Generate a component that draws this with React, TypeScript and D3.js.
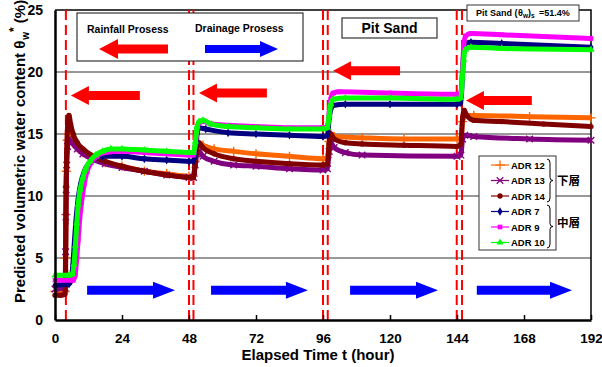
import { useEffect, useRef } from 'react';
import * as d3 from 'd3';

type Pt = [number, number];

const xTicks = [0, 24, 48, 72, 96, 120, 144, 168, 192];
const yTicks = [0, 5, 10, 15, 20, 25];
const gridValues = [5, 10, 15, 20];
// switch times between rainfall / drainage (hour)
const stageLines = [3.9, 48, 49.6, 96, 97.7, 143.9, 145.8];

// lower layer
const adr12: Pt[] = [
	[0, 2.3], [3.6, 2.3], [3.8, 5], [3.9, 8.5], [4.1, 12], [4.4, 14.5], [4.8, 15.0], [5.5, 14.8], [6.5, 14.3],
	[8, 13.9], [10, 13.5], [13, 13.1], [18, 12.7], [24, 12.4], [32, 12.0], [40, 11.8], [48, 11.6], [49.6, 11.6],
	[50.2, 12.8], [50.8, 14.0], [51.5, 14.3], [53, 14.1], [57, 13.8], [64, 13.6], [72, 13.4], [84, 13.2], [96, 13.0],
	[97.6, 13.1], [98.2, 14.4], [98.8, 15.0], [100, 14.8], [110, 14.7], [125, 14.6], [144, 14.6], [145.4, 14.7],
	[146, 16.0], [146.8, 16.5], [150, 16.5], [170, 16.4], [192, 16.3]
];
const adr13: Pt[] = [
	[0, 2.5], [3.6, 2.6], [3.8, 5.5], [3.9, 8.3], [4.0, 10.5], [4.2, 12.5], [4.5, 14.0], [5.0, 14.6], [6, 14.3],
	[8, 13.8], [10, 13.4], [13, 13.0], [18, 12.6], [24, 12.3], [32, 12.0], [40, 11.7], [48, 11.5], [49.6, 11.5],
	[50.2, 12.5], [50.8, 13.4], [51.5, 13.6], [53, 13.2], [57, 12.8], [64, 12.5], [72, 12.4], [84, 12.2], [96, 12.1],
	[97.6, 12.2], [98.2, 13.6], [98.8, 14.3], [100, 13.9], [104, 13.5], [110, 13.3], [144, 13.2], [145.4, 13.3],
	[146, 14.6], [146.8, 14.9], [150, 14.8], [170, 14.6], [192, 14.5]
];
const adr14: Pt[] = [
	[0, 2.0], [2, 2.0], [3.6, 2.1], [3.8, 4.0], [3.9, 7.8], [4.0, 10.8], [4.2, 13.5], [4.6, 16.0], [5.0, 16.5],
	[5.6, 15.8], [6.5, 15.0], [8, 14.3], [10, 13.8], [13, 13.3], [18, 12.8], [24, 12.4], [32, 12.0], [40, 11.7],
	[48, 11.5], [49.6, 11.5], [50.2, 12.5], [50.8, 13.8], [51.5, 14.3], [53, 13.9], [57, 13.4], [64, 13.0],
	[72, 12.8], [84, 12.6], [96, 12.5], [97.6, 12.6], [98.2, 14.2], [98.8, 15.0], [100, 14.6], [104, 14.3],
	[110, 14.2], [125, 14.1], [144, 14.0], [145.4, 14.2], [146, 16.3], [146.6, 16.9], [147.5, 16.5], [150, 16.1],
	[160, 16.0], [175, 15.8], [192, 15.6]
];
// middle layer
const adr7: Pt[] = [
	[0, 2.8], [5, 2.9], [5.8, 3.2], [6.4, 4.5], [7.0, 6.5], [7.6, 8.3], [8.3, 9.8], [9.2, 11.0], [10.5, 12.0],
	[12, 12.6], [14, 13.0], [17, 13.2], [24, 13.2], [32, 13.0], [40, 12.9], [48, 12.8], [49.6, 12.8], [50.3, 13.8],
	[50.9, 15.0], [51.6, 15.5], [54, 15.4], [62, 15.1], [72, 15.0], [84, 14.9], [96, 14.8], [97.6, 14.9],
	[98.2, 16.2], [98.8, 17.0], [99.6, 17.3], [104, 17.4], [120, 17.4], [144, 17.4], [145.4, 17.5], [145.9, 19.5],
	[146.4, 21.5], [147, 22.3], [149, 22.4], [160, 22.3], [192, 22.0]
];
const adr9: Pt[] = [
	[0, 3.2], [6.5, 3.2], [7.2, 3.6], [7.8, 5.0], [8.3, 6.5], [8.8, 8.0], [9.5, 9.5], [10.5, 11.0], [11.5, 12.0],
	[13, 12.7], [15, 13.2], [18, 13.5], [24, 13.6], [32, 13.5], [40, 13.4], [48, 13.3], [49.6, 13.3], [50.3, 14.2],
	[50.9, 15.4], [51.6, 15.9], [53, 16.0], [56, 15.8], [62, 15.7], [72, 15.6], [84, 15.5], [96, 15.5],
	[97.6, 15.6], [98.2, 16.7], [98.8, 17.8], [99.6, 18.3], [102, 18.4], [120, 18.3], [144, 18.2], [145.4, 18.3],
	[145.9, 20.0], [146.4, 22.0], [147, 22.9], [149, 23.1], [160, 23.0], [192, 22.7]
];
const adr10: Pt[] = [
	[0, 3.6], [5, 3.6], [6.2, 3.7], [6.8, 4.5], [7.3, 6.0], [7.8, 7.8], [8.3, 9.3], [9, 10.5], [10, 11.5],
	[11, 12.2], [12.5, 12.8], [14.5, 13.3], [17, 13.6], [20, 13.8], [24, 13.8], [32, 13.7], [40, 13.6], [48, 13.5],
	[49.6, 13.5], [50.3, 14.4], [50.9, 15.6], [51.6, 16.0], [53, 16.1], [56, 15.8], [62, 15.6], [72, 15.5],
	[84, 15.4], [96, 15.4], [97.6, 15.5], [98.2, 16.5], [98.8, 17.4], [99.6, 17.8], [104, 17.9], [120, 17.9],
	[144, 17.8], [145.4, 17.9], [145.9, 19.5], [146.4, 21.0], [147, 21.8], [149, 22.0], [160, 21.9], [192, 21.8]
];

const seriesNames = ['ADR 12', 'ADR 13', 'ADR 14', 'ADR 7', 'ADR 9', 'ADR 10'];
const seriesData = [adr12, adr13, adr14, adr7, adr9, adr10];
const seriesColors = ['#ff6600', '#800080', '#800000', '#000080', '#ff00ff', '#00ff00'];
const seriesSymbols = [d3.symbolPlus, d3.symbolTimes, d3.symbolCircle, d3.symbolDiamond, d3.symbolSquare, d3.symbolTriangle];

// arrows on the plot: [tail t, tip t, value]
const rainArrows: [number, number, number][] = [[30.4, 5.7, 18.1], [75.9, 51.6, 18.3], [123.6, 99.6, 20.1], [170.8, 147.2, 17.7]];
const drainArrows: [number, number, number][] = [[11.5, 43, 2.4], [55.9, 90.6, 2.4], [105.7, 137.2, 2.4], [151.1, 185.2, 2.4]];

const FONT = "'Liberation Sans', Arial, sans-serif";

const arrowPath = (x0: number, x1: number, yc: number, bh: number, hh: number, hl: number) => {
	const dir = Math.sign(x1 - x0);
	const xb = x1 - dir * hl;
	return `M${x0},${yc - bh}L${xb},${yc - bh}L${xb},${yc - hh}L${x1},${yc}L${xb},${yc + hh}L${xb},${yc + bh}L${x0},${yc + bh}Z`;
};

const bracePath = (x0: number, y1: number, y2: number) => {
	const ym = (y1 + y2) / 2;
	return `M${x0},${y1}Q${x0 + 3},${y1} ${x0 + 3},${y1 + 4}L${x0 + 3},${ym - 3}Q${x0 + 3},${ym} ${x0 + 6},${ym}` +
		`Q${x0 + 3},${ym} ${x0 + 3},${ym + 3}L${x0 + 3},${y2 - 4}Q${x0 + 3},${y2} ${x0},${y2}`;
};

export default function App() {
	const svgRef = useRef<SVGSVGElement | null>(null);

	useEffect(() => {
		const svg = d3.select(svgRef.current);
		svg.selectAll('*').remove();

		const width = 602;
		const height = 367;
		const margin = { top: 10, right: 11, bottom: 47, left: 55 };

		const x = d3.scaleLinear().domain([0, 192]).range([margin.left, width - margin.right]);
		const y = d3.scaleLinear().domain([0, 25]).range([height - margin.bottom, margin.top]);

		svg.append('rect').attr('width', width).attr('height', height).attr('fill', '#fff');

		// gridlines
		svg.append('g')
			.selectAll('line')
			.data(gridValues)
			.join('line')
			.attr('x1', x(0)).attr('x2', x(192))
			.attr('y1', (d) => y(d)).attr('y2', (d) => y(d))
			.attr('stroke', '#333').attr('stroke-width', 1);

		// frame top / right
		svg.append('path')
			.attr('d', `M${x(0)},${y(25)}L${x(192)},${y(25)}L${x(192)},${y(0)}`)
			.attr('fill', 'none').attr('stroke', '#000').attr('stroke-width', 1.5);

		// dashed stage lines
		svg.append('g')
			.selectAll('line')
			.data(stageLines)
			.join('line')
			.attr('x1', (d) => x(d)).attr('x2', (d) => x(d))
			.attr('y1', y(25)).attr('y2', y(0))
			.attr('stroke', '#ff0000').attr('stroke-width', 2).attr('stroke-dasharray', '10,5');

		// series
		const line = d3.line<Pt>().x((d) => x(d[0])).y((d) => y(d[1])).curve(d3.curveMonotoneX);
		seriesData.forEach((data, i) => {
			const gs = svg.append('g');
			gs.append('path')
				.attr('d', line(data))
				.attr('fill', 'none')
				.attr('stroke', seriesColors[i])
				.attr('stroke-width', 5)
				.attr('stroke-linejoin', 'round');
			const stroked = i < 2;
			gs.selectAll('path.m')
				.data(data)
				.join('path')
				.attr('class', 'm')
				.attr('transform', (d) => `translate(${x(d[0])},${y(d[1])})`)
				.attr('d', d3.symbol().type(seriesSymbols[i]).size(stroked ? 30 : 22)())
				.attr('fill', stroked ? 'none' : seriesColors[i])
				.attr('stroke', stroked ? seriesColors[i] : 'none')
				.attr('stroke-width', 1.4);
		});

		// axes
		const xAxis = svg.append('g')
			.attr('transform', `translate(0,${y(0)})`)
			.call(d3.axisBottom(x).tickValues(xTicks).tickSizeInner(-5).tickSizeOuter(0).tickPadding(13));
		xAxis.select('.domain').attr('stroke', '#000').attr('stroke-width', 2.5);
		xAxis.selectAll('line').attr('stroke', '#000').attr('stroke-width', 1.5);
		xAxis.selectAll('text').attr('font-size', 13.5).attr('font-weight', 'bold').attr('font-family', FONT).attr('fill', '#000');

		const yAxis = svg.append('g')
			.attr('transform', `translate(${x(0)},0)`)
			.call(d3.axisLeft(y).tickValues(yTicks).tickSize(0).tickPadding(12));
		yAxis.select('.domain').attr('stroke', '#000').attr('stroke-width', 2.5);
		yAxis.selectAll('text').attr('font-size', 14).attr('font-weight', 'bold').attr('font-family', FONT).attr('fill', '#000');

		// axis titles
		svg.append('text')
			.attr('x', 318).attr('y', 360)
			.attr('text-anchor', 'middle')
			.attr('font-size', 15).attr('font-weight', 'bold').attr('font-family', FONT)
			.text('Elapsed Time t (hour)');

		const yt = svg.append('text')
			.attr('transform', 'translate(25,303) rotate(-90)')
			.attr('font-size', 15).attr('font-weight', 'bold').attr('font-family', FONT);
		yt.append('tspan').text('Predicted volumetric water content  θ');
		yt.append('tspan').attr('font-size', 10).attr('dx', 1).attr('dy', 4).text('w');
		yt.append('tspan').attr('font-size', 12).attr('dy', -11).text('*');
		yt.append('tspan').attr('dx', 4).attr('dy', 7).text('(%)');

		// process arrows on plot
		svg.append('g')
			.selectAll('path')
			.data(rainArrows)
			.join('path')
			.attr('d', (d) => arrowPath(x(d[0]), x(d[1]), y(d[2]), 4.5, 9.5, 18))
			.attr('fill', '#ff0000');
		svg.append('g')
			.selectAll('path')
			.data(drainArrows)
			.join('path')
			.attr('d', (d) => arrowPath(x(d[0]), x(d[1]), y(d[2]), 4.5, 8.5, 22))
			.attr('fill', '#0000ff');

		// process key box
		const key = svg.append('g');
		key.append('rect').attr('x', 77).attr('y', 13).attr('width', 226).attr('height', 48)
			.attr('fill', '#fff').attr('stroke', '#333').attr('stroke-width', 1.2);
		key.append('text').attr('x', 87).attr('y', 33).attr('font-size', 10.5).attr('font-weight', 'bold')
			.attr('font-family', FONT).text('Rainfall Prosess');
		key.append('text').attr('x', 195).attr('y', 32).attr('font-size', 10.5).attr('font-weight', 'bold')
			.attr('font-family', FONT).text('Drainage Prosess');
		key.append('path').attr('d', arrowPath(168, 99, 49, 4.5, 10, 19)).attr('fill', '#ff0000');
		key.append('path').attr('d', arrowPath(205, 278, 49, 4, 8, 18)).attr('fill', '#0000ff');

		// Pit Sand label
		svg.append('rect').attr('x', 342).attr('y', 18).attr('width', 95).attr('height', 20)
			.attr('fill', '#fff').attr('stroke', '#333').attr('stroke-width', 1.2);
		svg.append('text').attr('x', 389.5).attr('y', 33).attr('text-anchor', 'middle')
			.attr('font-size', 14).attr('font-weight', 'bold').attr('font-family', FONT).text('Pit Sand');

		// saturated content box
		svg.append('rect').attr('x', 467).attr('y', 5).attr('width', 112).attr('height', 16)
			.attr('fill', '#fff').attr('stroke', '#333').attr('stroke-width', 1);
		const sat = svg.append('text').attr('y', 16)
			.attr('font-size', 9).attr('font-weight', 'bold').attr('font-family', FONT);
		sat.append('tspan').attr('x', 476).text('Pit Sand (');
		sat.append('tspan').attr('x', 518).text('θ');
		sat.append('tspan').attr('font-size', 6.5).attr('dy', 2).text('w');
		sat.append('tspan').attr('dy', -2).text(')');
		sat.append('tspan').attr('font-size', 6.5).attr('dy', 2).text('s');
		sat.append('tspan').attr('x', 539).attr('dy', -2).text('=51.4%');

		// series legend
		const legend = svg.append('g');
		legend.append('rect').attr('x', 479).attr('y', 156).attr('width', 77).attr('height', 94)
			.attr('fill', '#fff').attr('stroke', '#333').attr('stroke-width', 1);
		seriesNames.forEach((name, i) => {
			const ry = 165 + i * 15.5;
			const row = legend.append('g');
			row.append('line').attr('x1', 491).attr('x2', 509).attr('y1', ry).attr('y2', ry)
				.attr('stroke', seriesColors[i]).attr('stroke-width', 1.2);
			const stroked = i < 2;
			row.append('path')
				.attr('transform', `translate(500,${ry})`)
				.attr('d', d3.symbol().type(seriesSymbols[i]).size(stroked ? 30 : 22)())
				.attr('fill', stroked ? 'none' : seriesColors[i])
				.attr('stroke', stroked ? seriesColors[i] : 'none')
				.attr('stroke-width', 1.2);
			row.append('text').attr('x', 511).attr('y', ry + 3.5)
				.attr('font-size', 9.5).attr('font-weight', 'bold').attr('font-family', FONT).text(name);
		});
		legend.append('path').attr('d', bracePath(547, 159, 202)).attr('fill', 'none').attr('stroke', '#000').attr('stroke-width', 1);
		legend.append('path').attr('d', bracePath(547, 205, 248)).attr('fill', 'none').attr('stroke', '#000').attr('stroke-width', 1);
		legend.append('text').attr('x', 557).attr('y', 185).attr('font-size', 11.5).attr('font-weight', 'bold')
			.attr('font-family', "'Noto Sans CJK JP', sans-serif").text('下層');
		legend.append('text').attr('x', 557).attr('y', 227).attr('font-size', 11.5).attr('font-weight', 'bold')
			.attr('font-family', "'Noto Sans CJK JP', sans-serif").text('中層');

		return () => {
			svg.selectAll('*').remove();
		};
	}, []);

	return (
		<svg ref={svgRef} width={602} height={367} style={{ position: 'absolute', left: 0, top: 0 }} />
	);
}
